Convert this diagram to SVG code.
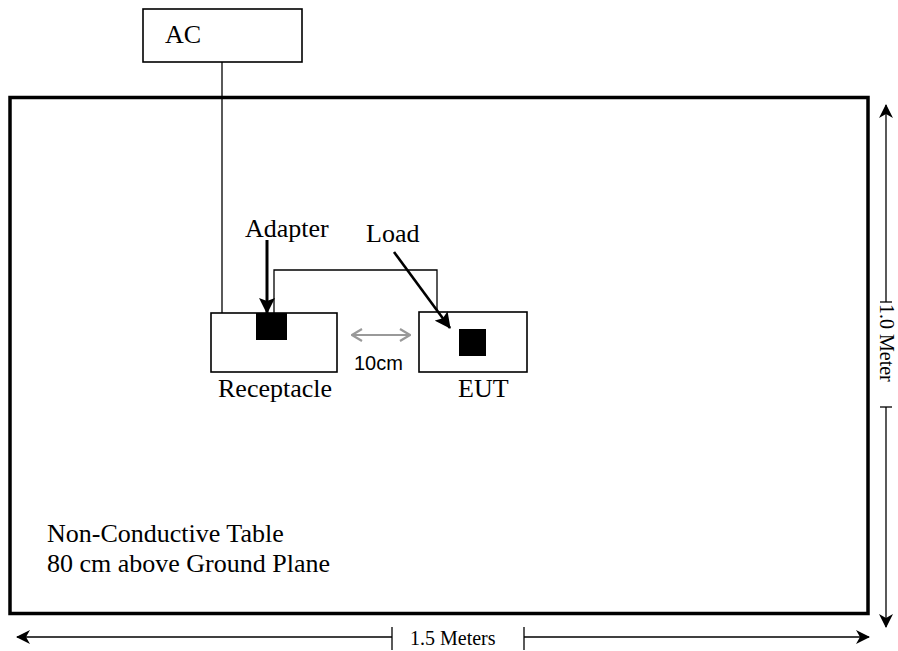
<svg xmlns="http://www.w3.org/2000/svg" width="898" height="651" viewBox="0 0 898 651">
<style>
.box{fill:#fff;stroke:#000;stroke-width:1.6}
.blk{fill:#000}
.serif{font-family:"Liberation Serif","Times New Roman",serif;fill:#000}
.lbl{font-size:26px}
.dim{font-size:20px}
.wire{fill:none;stroke:#000;stroke-width:1.3}
.dimline{fill:none;stroke:#000;stroke-width:1.3}
</style>
<defs>
<marker id="ah" viewBox="0 0 14 14" refX="13" refY="7" markerWidth="14" markerHeight="14" markerUnits="userSpaceOnUse" orient="auto-start-reverse">
<path d="M0,0 L14,7 L0,14 L4,7 z" fill="#000"/>
</marker>
<marker id="ahb" viewBox="0 0 16 16" refX="15" refY="8" markerWidth="16" markerHeight="16" markerUnits="userSpaceOnUse" orient="auto">
<path d="M0,0 L16,8 L0,16 L3,8 z" fill="#000"/>
</marker>
<marker id="ahg" viewBox="0 0 12 14" refX="11" refY="7" markerWidth="12" markerHeight="14" markerUnits="userSpaceOnUse" orient="auto-start-reverse">
<path d="M1,1 L11,7 L1,13" fill="none" stroke="#999" stroke-width="2.2"/>
</marker>
</defs>

<g id="table">
<rect x="10" y="97.5" width="858" height="516" fill="#fff" stroke="#000" stroke-width="3.5"/>
<text class="serif lbl" x="47" y="542">Non-Conductive Table</text>
<text class="serif lbl" x="47" y="572">80 cm above Ground Plane</text>
</g>

<g id="ac">
<rect class="box" x="143" y="9" width="159" height="53"/>
<text class="serif lbl" x="165" y="43">AC</text>
</g>

<g id="receptacle">
<rect class="box" x="211" y="313" width="126" height="59"/>
<rect class="blk" x="256" y="313" width="31" height="27"/>
<text class="serif lbl" x="218" y="397">Receptacle</text>
</g>

<g id="eut">
<rect class="box" x="419" y="312" width="108" height="60"/>
<rect class="blk" x="459" y="329" width="27" height="27"/>
<text class="serif lbl" x="458" y="397">EUT</text>
</g>

<g id="labels">
<text class="serif lbl" x="245" y="237">Adapter</text>
<text class="serif lbl" x="366" y="242">Load</text>
<text x="354" y="370" font-family="'Liberation Sans',Arial,sans-serif" font-size="20" fill="#000">10cm</text>
</g>

<g id="connectors">
<line class="wire" x1="222" y1="62" x2="222" y2="313"/>
<polyline class="wire" points="274,313 274,270 437,270 437,312"/>
<line x1="267" y1="240" x2="267" y2="313" stroke="#000" stroke-width="3" marker-end="url(#ahb)"/>
<line x1="394" y1="252" x2="450" y2="328" stroke="#000" stroke-width="2.6" marker-end="url(#ahb)"/>
<line x1="352" y1="335" x2="410" y2="335" stroke="#999" stroke-width="2.2" marker-start="url(#ahg)" marker-end="url(#ahg)"/>
</g>

<g id="dim-height">
<line class="dimline" x1="886" y1="302" x2="886" y2="105" marker-end="url(#ah)"/>
<line class="dimline" x1="886" y1="407" x2="886" y2="627" marker-end="url(#ah)"/>
<line class="dimline" x1="880" y1="302" x2="892" y2="302"/>
<line class="dimline" x1="880" y1="407" x2="892" y2="407"/>
<text class="serif dim" transform="translate(880,304) rotate(90)" x="0" y="0">1.0 Meter</text>
</g>

<g id="dim-width">
<line class="dimline" x1="392" y1="637" x2="17" y2="637" marker-end="url(#ah)"/>
<line class="dimline" x1="524" y1="637" x2="869" y2="637" marker-end="url(#ah)"/>
<line class="dimline" x1="392" y1="627" x2="392" y2="650"/>
<line class="dimline" x1="524" y1="627" x2="524" y2="650"/>
<text class="serif dim" x="410" y="645">1.5 Meters</text>
</g>
</svg>
